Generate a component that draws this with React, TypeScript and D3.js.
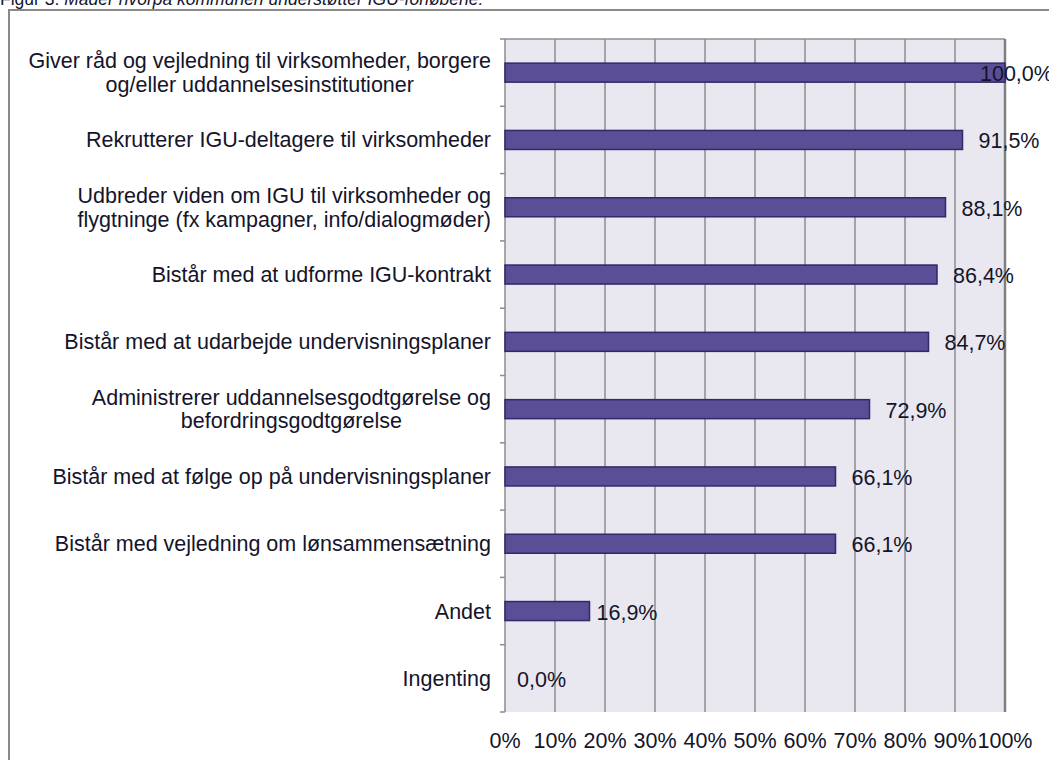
import React, { useMemo } from "react";
import * as d3 from "d3";

const categories: string[] = [
  "Giver råd og vejledning til virksomheder, borgere\nog/eller uddannelsesinstitutioner",
  "Rekrutterer IGU-deltagere til virksomheder",
  "Udbreder viden om IGU til virksomheder og\nflygtninge (fx kampagner, info/dialogmøder)",
  "Bistår med at udforme IGU-kontrakt",
  "Bistår med at udarbejde undervisningsplaner",
  "Administrerer uddannelsesgodtgørelse og\nbefordringsgodtgørelse",
  "Bistår med at følge op på undervisningsplaner",
  "Bistår med vejledning om lønsammensætning",
  "Andet",
  "Ingenting",
];

const values: number[] = [100.0, 91.5, 88.1, 86.4, 84.7, 72.9, 66.1, 66.1, 16.9, 0.0];

const xTicks: number[] = [0, 10, 20, 30, 40, 50, 60, 70, 80, 90, 100];

// horizontal nudges of the value labels relative to the bar end (layout only)
const labelNudge: number[] = [-25, 16, 16, 16, 16, 16, 16, 16, 7, 12];

const FONT = "'Liberation Sans', Arial, sans-serif";
const TEXT = "#14142a";
const FS = 21.5;

export default function App() {
  const W = 1049;
  const H = 760;
  const plot = { left: 505, right: 1005, top: 39, bottom: 712 };

  const x = d3.scaleLinear().domain([0, 100]).range([plot.left, plot.right]);
  const y = d3
    .scaleBand<string>()
    .domain(categories)
    .range([plot.top, plot.bottom])
    .padding(0);
  const step = y.step();
  const barH = 19;

  const measure = useMemo(() => {
    const c = document.createElement("canvas").getContext("2d");
    return (s: string) => {
      if (!c) return s.length * 10;
      c.font = `${FS}px ${FONT}`;
      return c.measureText(s).width;
    };
  }, []);

  const labelRight = 491;
  const fmt = (v: number) => v.toFixed(1).replace(".", ",") + "%";

  return (
    <svg
      width={W}
      height={H}
      style={{ position: "absolute", left: 0, top: 0, display: "block", background: "#fff" }}
      fontFamily={FONT}
    >
      {/* title, partially cut off at the top as in the source */}
      <text x={0} y={5} fontSize={17.5} fill={TEXT}>
        Figur 3: <tspan fontStyle="italic">Måder hvorpå kommunen understøtter IGU-forløbene:</tspan>
      </text>

      {/* outer frame */}
      <rect x={9} y={10} width={1060} height={780} fill="none" stroke="#8a8a8a" strokeWidth={2} />

      {/* plot background */}
      <rect
        x={plot.left}
        y={plot.top}
        width={plot.right - plot.left}
        height={plot.bottom - plot.top}
        fill="#e9e7ef"
      />
      <line x1={plot.left} x2={plot.right} y1={plot.top} y2={plot.top} stroke="#8c8c8c" strokeWidth={1.5} />

      {/* vertical gridlines */}
      {xTicks.map((t) => (
        <line
          key={"g" + t}
          x1={x(t)}
          x2={x(t)}
          y1={plot.top}
          y2={plot.bottom}
          stroke={t === 100 ? "#7f7f7f" : "#8c8c8c"}
          strokeWidth={t === 100 ? 2.5 : 1.5}
        />
      ))}

      {/* category axis ticks */}
      {d3.range(categories.length + 1).map((i) => {
        const yy = plot.top + i * step;
        return (
          <line key={"t" + i} x1={plot.left - 5} x2={plot.left} y1={yy} y2={yy} stroke="#8c8c8c" strokeWidth={1.5} />
        );
      })}

      {/* bars */}
      {categories.map((c, i) => {
        const cy = (y(c) as number) + step / 2;
        const w = x(values[i]) - x(0);
        if (w <= 0) return null;
        return (
          <rect
            key={"b" + i}
            x={x(0)}
            y={cy - barH / 2}
            width={w}
            height={barH}
            fill="#5a4e96"
            stroke="#30296a"
            strokeWidth={1.5}
          />
        );
      })}

      {/* value labels */}
      {categories.map((c, i) => {
        const cy = (y(c) as number) + step / 2;
        return (
          <text key={"v" + i} x={x(values[i]) + labelNudge[i]} y={cy + 8.5} fontSize={FS} fill={TEXT}>
            {fmt(values[i])}
          </text>
        );
      })}

      {/* category labels */}
      {categories.map((c, i) => {
        const cy = (y(c) as number) + step / 2;
        const lines = c.split("\n");
        const lh = 23.5;
        if (lines.length === 1) {
          return (
            <text key={"c" + i} x={labelRight} y={cy + 7.5} fontSize={FS} fill={TEXT} textAnchor="end">
              {c}
            </text>
          );
        }
        const maxW = Math.max(...lines.map(measure));
        const cx = labelRight - maxW / 2;
        return (
          <text key={"c" + i} fontSize={FS} fill={TEXT} textAnchor="middle">
            {lines.map((l, k) => (
              <tspan key={k} x={cx} y={cy + 7.5 + (k - (lines.length - 1) / 2) * lh}>
                {l}
              </tspan>
            ))}
          </text>
        );
      })}

      {/* x tick labels */}
      {xTicks.map((t) => (
        <text key={"x" + t} x={x(t)} y={748} fontSize={FS} fill={TEXT} textAnchor="middle">
          {t + "%"}
        </text>
      ))}
    </svg>
  );
}
